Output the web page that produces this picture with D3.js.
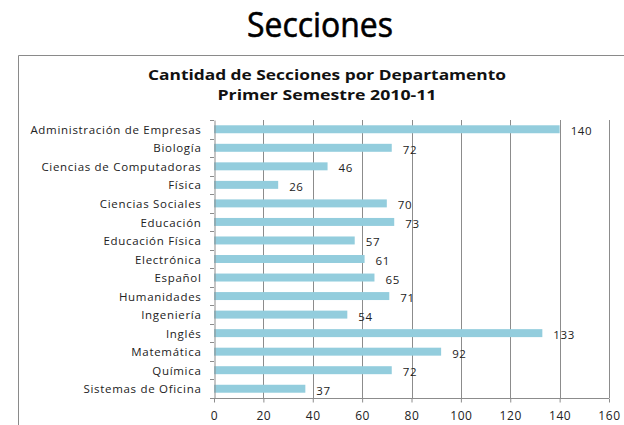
<!DOCTYPE html>
<html>
<head>
<meta charset="utf-8">
<script src="https://cdn.jsdelivr.net/npm/d3@7"></script>
<style>
  body { margin: 0; background: #fff; }
  text { font-family: "Open Sans", "Liberation Sans", sans-serif; }
</style>
</head>
<body>
<svg id="chart"></svg>
<script>
/* chart data */
var departments = ["Administración de Empresas", "Biología", "Ciencias de Computadoras", "Física",
  "Ciencias Sociales", "Educación", "Educación Física", "Electrónica", "Español", "Humanidades",
  "Ingeniería", "Inglés", "Matemática", "Química", "Sistemas de Oficina"];
var sections = [140, 72, 46, 26, 70, 73, 57, 61, 65, 71, 54, 133, 92, 72, 37];
var xTicks = [0, 20, 40, 60, 80, 100, 120, 140, 160];
var pageTitle = "Secciones";
var chartTitle = ["Cantidad de Secciones por Departamento", "Primer Semestre 2010-11"];

var width = 624;
var height = 425;
var plot = {left: 214, right: 609, top: 120, bottom: 398};
var barColor = "#93cddd";
var gridColor = "#8c8c8c";

var svg = d3.select('#chart')
    .attr('width', width)
    .attr('height', height);

/* big page title */
svg.append('text')
    .attr('x', 320)
    .attr('y', 37)
    .attr('text-anchor', 'middle')
    .attr('font-size', 34)
    .attr('stroke', '#000')
    .attr('stroke-width', 0.6)
    .attr('textLength', 146)
    .attr('lengthAdjust', 'spacingAndGlyphs')
    .attr('fill', '#000')
    .text(pageTitle);

/* chart frame (only top and left are visible in the picture) */
svg.append('path')
    .attr('d', 'M18.5,' + height + 'V55.5H' + width)
    .attr('fill', 'none')
    .attr('stroke', '#8a8a8a')
    .attr('stroke-width', 1);

/* chart title */
svg.selectAll('text.ctitle')
    .data(chartTitle)
    .enter()
    .append('text')
    .attr('class', 'ctitle')
    .attr('x', 327)
    .attr('y', function(d, i){ return 80 + i * 20; })
    .attr('text-anchor', 'middle')
    .attr('font-size', 15)
    .attr('font-weight', 'bold')
    .attr('textLength', function(d, i){ return i === 0 ? 358 : 219; })
    .attr('lengthAdjust', 'spacingAndGlyphs')
    .attr('fill', '#111')
    .text(function(d){ return d; });

var x = d3.scaleLinear()
    .domain([0, 160])
    .range([plot.left, plot.right]);

var y = d3.scaleBand()
    .domain(departments)
    .range([plot.top, plot.bottom])
    .paddingInner(0.57)
    .paddingOuter(0.285);

var yOuter = d3.scaleBand()
    .domain(departments)
    .range([plot.top, plot.bottom]);

/* vertical gridlines */
svg.selectAll('line.grid')
    .data(xTicks.slice(1))
    .enter()
    .append('line')
    .attr('class', 'grid')
    .attr('x1', function(d){ return Math.round(x(d)) + 0.5; })
    .attr('x2', function(d){ return Math.round(x(d)) + 0.5; })
    .attr('y1', plot.top)
    .attr('y2', plot.bottom)
    .attr('stroke', gridColor);

/* bars */
svg.selectAll('rect.bar')
    .data(sections)
    .enter()
    .append('rect')
    .attr('class', 'bar')
    .attr('x', x(0))
    .attr('y', function(d, i){ return y(departments[i]); })
    .attr('width', function(d){ return x(d) - x(0); })
    .attr('height', y.bandwidth())
    .attr('fill', barColor);

/* value labels */
svg.selectAll('text.value')
    .data(sections)
    .enter()
    .append('text')
    .attr('class', 'value')
    .attr('x', function(d){ return x(d) + 11; })
    .attr('y', function(d, i){ return y(departments[i]) + y.bandwidth() / 2 + 6; })
    .attr('font-size', 11.5)
    .attr('letter-spacing', 0.6)
    .attr('fill', '#222')
    .text(function(d){ return d; });

/* left axis */
var yAxis = d3.axisLeft(yOuter).tickSize(0).tickPadding(13);
var gy = svg.append('g')
    .attr('transform', 'translate(' + (plot.left + 0.5) + ',0)')
    .call(yAxis);
gy.select('.domain').attr('stroke', gridColor);
gy.selectAll('text')
    .attr('font-size', 11.5)
    .attr('letter-spacing', 0.7)
    .attr('fill', '#222')
    .attr('dy', '0.4em');

/* category boundary ticks */
svg.selectAll('line.ytick')
    .data(d3.range(departments.length + 1))
    .enter()
    .append('line')
    .attr('class', 'ytick')
    .attr('x1', plot.left - 4)
    .attr('x2', plot.left)
    .attr('y1', function(d){ return Math.round(plot.top + d * yOuter.step()) + 0.5; })
    .attr('y2', function(d){ return Math.round(plot.top + d * yOuter.step()) + 0.5; })
    .attr('stroke', gridColor);

/* bottom axis */
var xAxis = d3.axisBottom(x).tickValues(xTicks).tickSize(4).tickPadding(9);
var gx = svg.append('g')
    .attr('transform', 'translate(0,' + (plot.bottom + 0.5) + ')')
    .call(xAxis);
gx.select('.domain').attr('stroke', gridColor).attr('d', 'M' + plot.left + ',0H' + plot.right);
gx.selectAll('.tick line').attr('stroke', gridColor);
gx.selectAll('text')
    .attr('font-size', 12)
    .attr('letter-spacing', 0.6)
    .attr('fill', '#222');
</script>
</body>
</html>
